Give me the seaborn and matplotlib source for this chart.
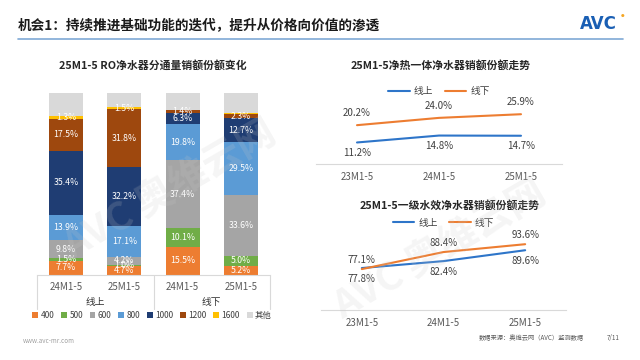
import numpy as np
import pandas as pd
import matplotlib
matplotlib.use("Agg")
import matplotlib.pyplot as plt
from matplotlib.patches import Patch
from matplotlib.lines import Line2D
import seaborn as sns

sns.set_theme(style="white")
plt.rcParams['font.family'] = ['Noto Sans CJK SC', 'DejaVu Sans']
plt.rcParams['axes.unicode_minus'] = False

# --- 数据 ---
bar_ids = ['线上24', '线上25', '线下24', '线下25']
bar_labels = ['24M1-5', '25M1-5', '24M1-5', '25M1-5']
groups = ['线上', '线下']
segments = ['400', '500', '600', '800', '1000', '1200', '1600', '其他']
seg_colors = ['#ED7D31', '#70AD47', '#A5A5A5', '#5B9BD5', '#1F3D73', '#9E480E', '#FFC000', '#D9D9D9']
share_400 = [7.7, 4.7, 15.5, 5.2]
share_500 = [1.5, 1.0, 10.1, 5.0]
share_600 = [9.8, 4.2, 37.4, 33.6]
share_800 = [13.9, 17.1, 19.8, 29.5]
share_1000 = [35.4, 32.2, 6.3, 12.7]
share_1200 = [17.5, 31.8, 1.4, 2.3]
share_1600 = [1.3, 1.5, 0.0, 0.8]
share_other = [12.9, 7.5, 9.5, 10.9]
shares = [share_400, share_500, share_600, share_800, share_1000, share_1200, share_1600, share_other]
# 哪些段要标数字 (其他不标, 线下的1600不标)
show_label = [[1, 1, 1, 1], [1, 1, 1, 1], [1, 1, 1, 1], [1, 1, 1, 1],
              [1, 1, 1, 1], [1, 1, 1, 1], [1, 1, 0, 0], [0, 0, 0, 0]]

periods = ['23M1-5', '24M1-5', '25M1-5']
heat_online = [11.2, 14.8, 14.7]
heat_offline = [20.2, 24.0, 25.9]
eff_online = [77.8, 82.4, 89.6]
eff_offline = [77.1, 88.4, 93.6]

BLUE = '#2E75C9'
ORANGE = '#ED7D31'
TICK = '#595959'
AXIS = '#D9D9D9'

fig = plt.figure(figsize=(6.4, 3.6), dpi=100)

def px(x, y):
    return x / 640, 1 - y / 360

# --- 页眉 ---
fig.text(*px(18, 25), '机会1：持续推进基础功能的迭代，提升从价格向价值的渗透',
         fontsize=9.8, fontweight='bold', color='#1a1a1a', va='center', ha='left')
fig.add_artist(Line2D([18 / 640, 623 / 640], [1 - 39 / 360] * 2, color='#7FA9D6', lw=1.2))
fig.text(*px(598, 24), 'AVC', fontsize=12, fontweight='heavy',
         color='#1A5FB4', ha='center', va='center', family=['DejaVu Sans'])
fig.text(*px(623, 16), '●', fontsize=3, color='#F5A623', ha='center', va='center', family=['DejaVu Sans'])

# --- 水印 ---
for (wx, wy) in [(170, 190), (440, 250)]:
    fig.text(*px(wx, wy), 'AVC 奥维云网', fontsize=28, fontweight='bold', rotation=30,
             color='#C8C8C8', alpha=0.18, ha='center', va='center', zorder=20)

# --- 左图: 堆叠柱 ---
ax1 = fig.add_axes([37 / 640, 1 - 275 / 360, 233 / 640, 182 / 360])
cum = np.cumsum(np.array(shares), axis=0)
for i in range(len(segments) - 1, -1, -1):
    df = pd.DataFrame({'bar': bar_ids, 'top': cum[i]})
    sns.barplot(data=df, x='bar', y='top', color=seg_colors[i], saturation=1,
                width=0.58, linewidth=0, ax=ax1)
for i in range(len(segments)):
    for j in range(len(bar_ids)):
        if show_label[i][j]:
            mid = cum[i][j] - shares[i][j] / 2
            ax1.text(j, mid, f'{shares[i][j]:.1f}%', ha='center', va='center',
                     fontsize=6.3, color='white')
ax1.set_xlim(-0.5, 3.5)
ax1.set_ylim(0, 100)
ax1.set_xlabel('')
ax1.set_ylabel('')
ax1.set_yticks([])
ax1.set_xticks(range(4))
ax1.set_xticklabels(bar_labels, fontsize=7, color=TICK)
ax1.tick_params(axis='x', length=0, pad=5)
for s in ['top', 'right', 'left']:
    ax1.spines[s].set_visible(False)
ax1.spines['bottom'].set_color(AXIS)
ax1.spines['bottom'].set_linewidth(0.8)
for xv in [-0.5, 1.5, 3.5]:
    ax1.plot([xv, xv], [0, -0.185], color=AXIS, lw=0.8, clip_on=False,
             transform=ax1.get_xaxis_transform())
for k, g in enumerate(groups):
    ax1.text(0.5 + 2 * k, -0.15, g, fontsize=7, color='#333333', ha='center', va='center',
             transform=ax1.get_xaxis_transform())
fig.text(*px(153, 65), '25M1-5 RO净水器分通量销额份额变化', fontsize=7.8,
         fontweight='bold', color='#262626', ha='center', va='center')
handles = [Patch(facecolor=c, edgecolor='none', label=s) for s, c in zip(segments, seg_colors)]
fig.legend(handles=handles, loc='center', bbox_to_anchor=px(152, 315), ncol=8,
           frameon=False, fontsize=6, handlelength=0.7, handleheight=0.7,
           handletextpad=0.3, columnspacing=0.8, labelcolor='#404040')

# --- 折线图 ---
def line_panel(rect, online, offline, ylim, title, title_xy, off_up=11, on_down=11, leg_y=0.98):
    ax = fig.add_axes(rect)
    df = pd.DataFrame({'period': periods * 2,
                       'share': online + offline,
                       '渠道': ['线上'] * 3 + ['线下'] * 3})
    sns.lineplot(data=df, x='period', y='share', hue='渠道', sort=False,
                 palette={'线上': BLUE, '线下': ORANGE}, linewidth=1.5, ax=ax)
    for j in range(3):
        ax.annotate(f'{offline[j]:.1f}%', (j, offline[j]), xytext=(0, off_up),
                    textcoords='offset points', ha='center', va='bottom',
                    fontsize=7, color='#404040')
        ax.annotate(f'{online[j]:.1f}%', (j, online[j]), xytext=(0, -on_down),
                    textcoords='offset points', ha='center', va='top',
                    fontsize=7, color='#404040')
    ax.set_xlim(-0.5, 2.5)
    ax.set_ylim(*ylim)
    ax.set_xlabel('')
    ax.set_ylabel('')
    ax.set_yticks([])
    ax.tick_params(axis='x', length=0, pad=6, labelsize=7, labelcolor=TICK)
    for s in ['top', 'right', 'left']:
        ax.spines[s].set_visible(False)
    ax.spines['bottom'].set_color(AXIS)
    ax.spines['bottom'].set_linewidth(0.8)
    ax.legend(loc='center', bbox_to_anchor=(0.5, leg_y), ncol=2, frameon=False,
              fontsize=7, handlelength=2.2, handletextpad=0.4, columnspacing=1.2,
              labelcolor='#404040')
    fig.text(*px(*title_xy), title, fontsize=7.8, fontweight='bold',
             color='#262626', ha='center', va='center')
    return ax

line_panel([316 / 640, 1 - 164 / 360, 246 / 640, 74 / 360], heat_online, heat_offline,
           (0, 38.5), '25M1-5净热一体净水器销额份额走势', (441, 65), off_up=5, on_down=4)
line_panel([321 / 640, 1 - 310 / 360, 245 / 640, 83 / 360], eff_online, eff_offline,
           (50, 105), '25M1-5一级水效净水器销额份额走势', (450, 205), off_up=3, on_down=4,
           leg_y=1.05)

# --- 页脚 ---
fig.text(*px(23, 341), 'www.avc-mr.com', fontsize=4.5, color='#A0A0A0', va='center')
fig.text(*px(479, 338), '数据来源：奥维云网（AVC）监测数据', fontsize=4.5, color='#595959', va='center')
fig.text(*px(607, 338), '7/11', fontsize=4.5, color='#595959', va='center')

fig.savefig('out.png', dpi=100)
